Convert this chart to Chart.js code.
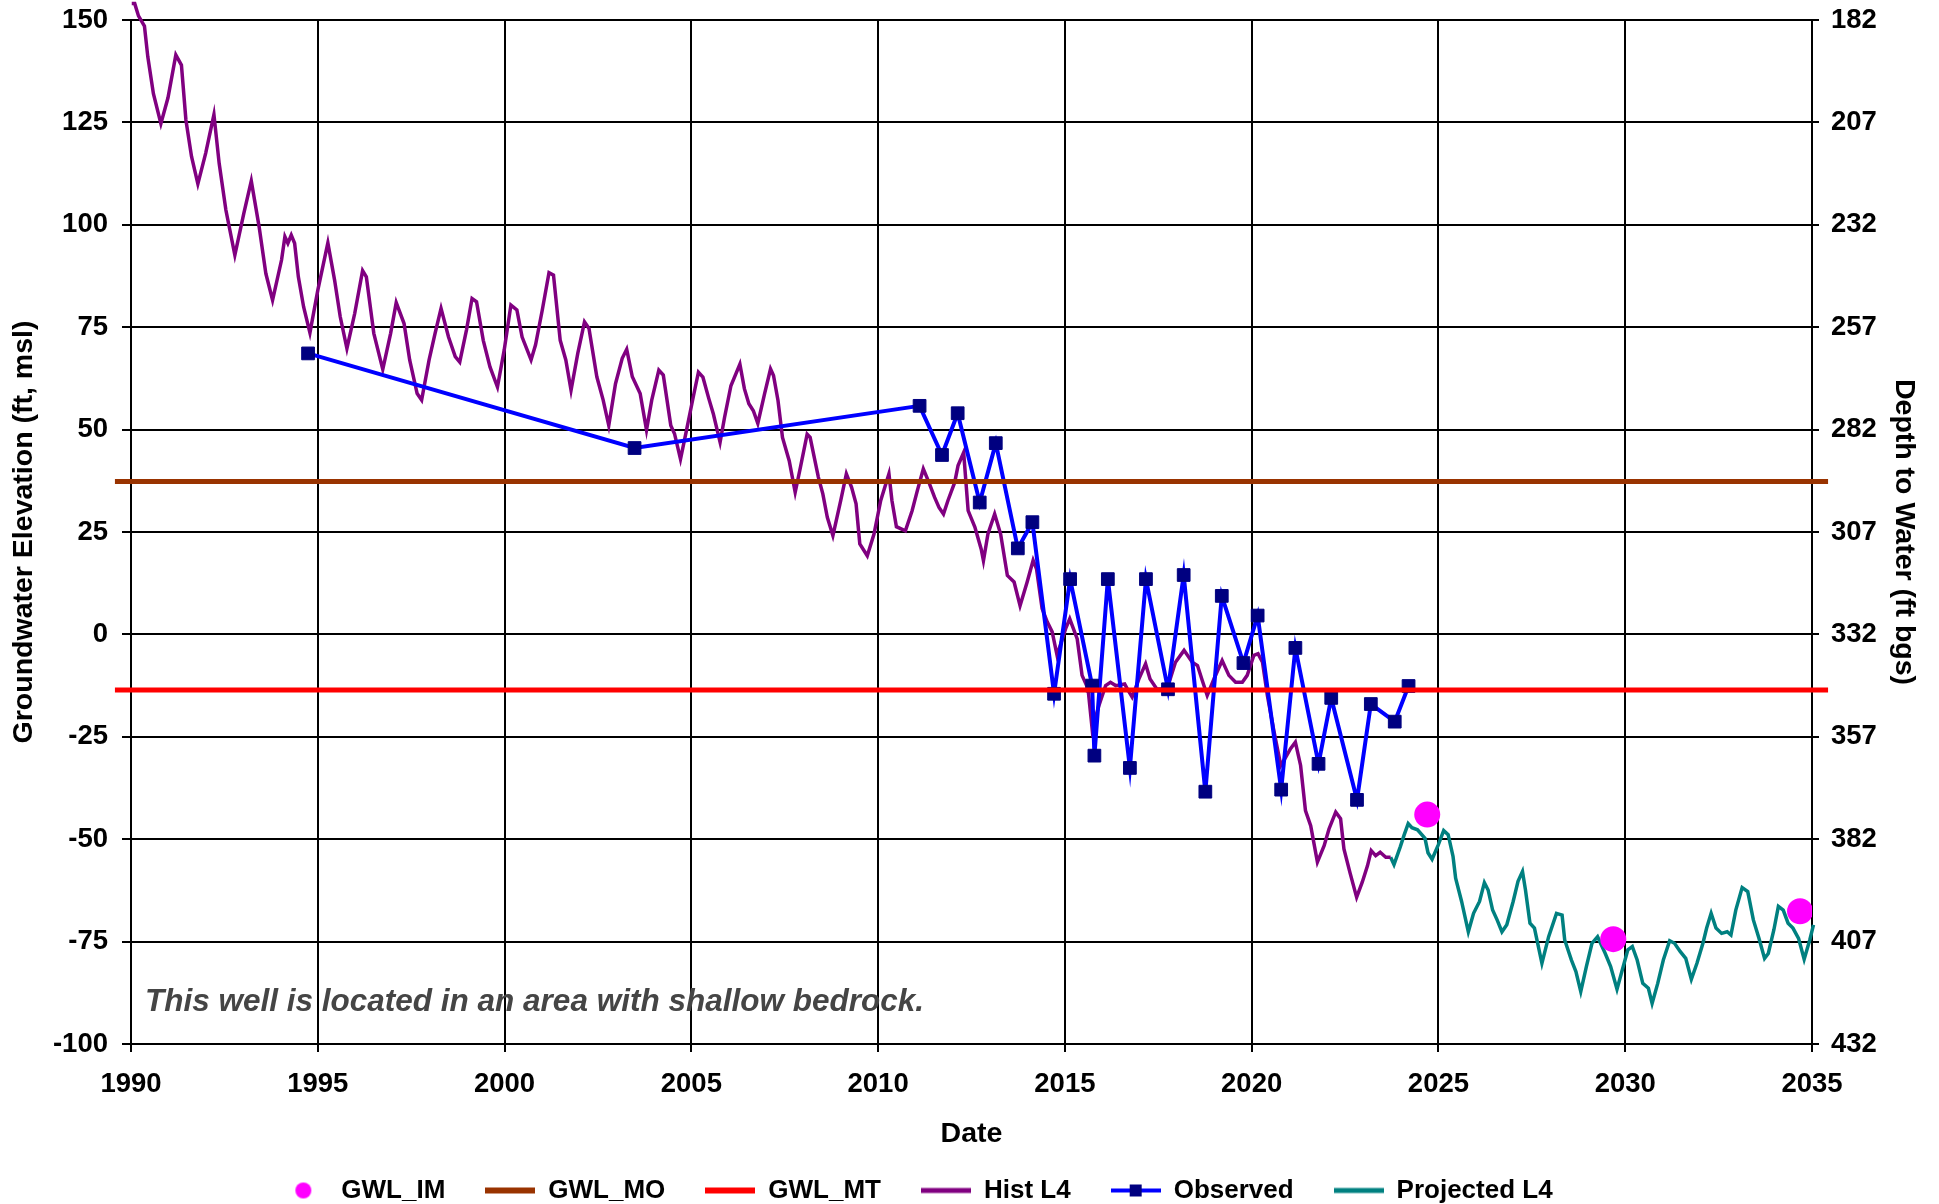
<!DOCTYPE html>
<html>
<head>
<meta charset="utf-8">
<title>Groundwater Elevation L4</title>
<script src="https://cdn.jsdelivr.net/npm/chart.js@4.4.1/dist/chart.umd.min.js"></script>
<style>
  html, body { margin: 0; padding: 0; background: #fff; }
  #chart { display: block; }
</style>
</head>
<body>
<canvas id="chart" width="1939" height="1204"></canvas>
<script>
// ===== DATA =====
const yearTicks  = [1990, 1995, 2000, 2005, 2010, 2015, 2020, 2025, 2030, 2035];
const elevTicks  = [-100, -75, -50, -25, 0, 25, 50, 75, 100, 125, 150];
const depthTicks = [182, 207, 232, 257, 282, 307, 332, 357, 382, 407, 432];

const legendNames = ['GWL_IM', 'GWL_MO', 'GWL_MT', 'Hist L4', 'Observed', 'Projected L4'];

// threshold lines (ft msl), drawn across the whole date span
const gwlMO = 37.3;
const gwlMT = -13.6;
const thresholdSpan = [1989.57, 2035.43];

// interim milestones
const imPoints = [[2024.7, -44], [2029.68, -74.4], [2034.68, -67.6]];

// observed measurements
const observed = [
  [1994.74, 68.6], [2003.48, 45.5], [2011.11, 55.8], [2011.71, 43.8], [2012.13, 54],
  [2012.72, 32.2], [2013.15, 46.7], [2013.74, 21], [2014.13, 27.4], [2014.71, -14.5],
  [2015.14, 13.5], [2015.73, -12.5], [2015.79, -29.6], [2016.15, 13.5], [2016.74, -32.6],
  [2017.17, 13.5], [2017.76, -13.4], [2018.18, 14.5], [2018.76, -38.4], [2019.2, 9.4],
  [2019.78, -7], [2020.16, 4.6], [2020.79, -37.9], [2021.17, -3.3], [2021.79, -31.6],
  [2022.13, -15.5], [2022.82, -40.4], [2023.19, -17], [2023.83, -21.3], [2024.2, -12.6]
];

// historical model L4
const histL4 = [
  [1990.02, 154], [1990.1, 154], [1990.2, 151], [1990.36, 148.5], [1990.45, 141], [1990.6, 132],
  [1990.8, 124.7], [1990.99, 131], [1991.2, 141.5], [1991.35, 139], [1991.47, 125.6], [1991.62, 116.7],
  [1991.79, 110], [1992.0, 117.5], [1992.22, 126.9], [1992.36, 115], [1992.54, 103.6], [1992.78, 92.6],
  [1993.02, 102.8], [1993.22, 110.7], [1993.43, 99.5], [1993.61, 88.1], [1993.79, 81.6], [1994.03, 91.4],
  [1994.12, 97.1], [1994.2, 95.5], [1994.29, 97.5], [1994.38, 95.5], [1994.48, 87.3], [1994.62, 80],
  [1994.79, 73.6], [1995.0, 84], [1995.27, 95.6], [1995.45, 86.5], [1995.6, 77.6], [1995.78, 69.8],
  [1995.99, 78.4], [1996.2, 88.8], [1996.3, 87.3], [1996.5, 73.5], [1996.74, 64.7], [1996.95, 73.5],
  [1997.1, 81], [1997.31, 75.9], [1997.46, 67], [1997.66, 58.8], [1997.78, 57.2], [1997.98, 67],
  [1998.14, 73.5], [1998.3, 79.6], [1998.5, 72.6], [1998.68, 67.8], [1998.8, 66.5], [1998.98, 74.3],
  [1999.13, 82], [1999.25, 81.2], [1999.43, 71.8], [1999.61, 65.3], [1999.81, 60.4], [1999.99, 69.4],
  [2000.17, 80.4], [2000.33, 79.2], [2000.47, 72.6], [2000.71, 67], [2000.83, 70.7], [2001.01, 79.2],
  [2001.19, 88.3], [2001.31, 87.7], [2001.49, 71.8], [2001.64, 67], [2001.78, 59.6], [2001.96, 68.6],
  [2002.14, 76.3], [2002.26, 74.7], [2002.47, 62.9], [2002.64, 57.2], [2002.79, 51], [2002.97, 61.2],
  [2003.15, 67.4], [2003.27, 69.6], [2003.42, 62.9], [2003.63, 58.8], [2003.8, 49.9], [2003.94, 57.2],
  [2004.13, 64.5], [2004.25, 63.3], [2004.45, 51], [2004.55, 49], [2004.71, 42.8], [2004.87, 49.8],
  [2005.05, 57.9], [2005.19, 64], [2005.31, 62.8], [2005.47, 57.5], [2005.59, 53.8], [2005.77, 46.9],
  [2005.89, 53], [2006.06, 60.7], [2006.3, 66], [2006.42, 60], [2006.54, 56.3], [2006.66, 54.6],
  [2006.78, 51.5], [2006.96, 58.7], [2007.12, 64.8], [2007.2, 63.2], [2007.32, 57.1], [2007.44, 48.1],
  [2007.62, 42.4], [2007.78, 34.7], [2007.92, 40.8], [2008.1, 48.9], [2008.18, 48.1], [2008.4, 38.4],
  [2008.52, 34.3], [2008.64, 28.6], [2008.79, 24.1], [2009.0, 32.7], [2009.15, 39.2], [2009.29, 35.9],
  [2009.41, 31.9], [2009.51, 22.1], [2009.71, 19.2], [2009.89, 24.5], [2010.07, 32.7], [2010.29, 39.2],
  [2010.37, 32.7], [2010.49, 26.3], [2010.73, 25.3], [2010.91, 30.2], [2011.05, 35.1], [2011.21, 40.4],
  [2011.36, 37.1], [2011.51, 33.5], [2011.63, 31], [2011.75, 29.4], [2011.87, 32.7], [2012.05, 37.1],
  [2012.14, 41.2], [2012.29, 44.4], [2012.41, 30.2], [2012.59, 26.2], [2012.76, 20.8], [2012.82, 18],
  [2012.94, 24.5], [2013.12, 29.4], [2013.28, 24.5], [2013.46, 14.4], [2013.64, 12.8], [2013.8, 7],
  [2013.99, 12.8], [2014.15, 18.1], [2014.24, 16], [2014.39, 6.3], [2014.53, 3], [2014.66, 0.6],
  [2014.79, -5.1], [2015.02, 1.4], [2015.13, 3.8], [2015.33, -1.1], [2015.46, -10], [2015.62, -13.3],
  [2015.73, -23.1], [2015.91, -17.4], [2016.09, -12.5], [2016.22, -11.7], [2016.36, -12.5], [2016.6, -12.1],
  [2016.67, -13.3], [2016.8, -15.3], [2016.98, -10.9], [2017.16, -7.2], [2017.28, -10.9], [2017.46, -13.3],
  [2017.65, -13.3], [2017.79, -11.7], [2017.96, -6.8], [2018.19, -3.9], [2018.41, -6.8], [2018.55, -7.6],
  [2018.68, -11.3], [2018.81, -14.9], [2018.99, -10.9], [2019.21, -6.4], [2019.39, -10], [2019.57, -11.7],
  [2019.75, -11.7], [2019.88, -10], [2020.06, -5.1], [2020.17, -4.7], [2020.29, -6.8], [2020.42, -14.9],
  [2020.6, -23.8], [2020.78, -32], [2020.91, -30], [2021.04, -27.9], [2021.17, -26.3], [2021.31, -32],
  [2021.44, -43], [2021.58, -46.7], [2021.76, -55.6], [2021.94, -51.6], [2022.07, -47.5], [2022.25, -43.4],
  [2022.38, -45], [2022.47, -52.4], [2022.63, -58.1], [2022.81, -64.2], [2022.96, -60.5], [2023.1, -56.5],
  [2023.2, -52.8], [2023.32, -54], [2023.44, -53.2], [2023.59, -54.4], [2023.72, -54.4]
];

// projected model L4
const projL4 = [
  [2023.72, -54.4], [2023.81, -56.2], [2023.98, -51.8], [2024.08, -49], [2024.19, -46.2], [2024.29, -47.2],
  [2024.44, -47.7], [2024.64, -49.8], [2024.72, -53.3], [2024.83, -54.9], [2024.99, -51.5], [2025.14, -47.9],
  [2025.26, -48.9], [2025.39, -54.2], [2025.46, -59.5], [2025.62, -65.2], [2025.8, -72.6], [2025.94, -68.1],
  [2026.1, -65.2], [2026.23, -60.6], [2026.33, -62.4], [2026.45, -67.3], [2026.57, -69.7], [2026.7, -72.6],
  [2026.83, -70.9], [2027.0, -65.2], [2027.13, -60.3], [2027.25, -57.9], [2027.33, -62.4], [2027.45, -70.5],
  [2027.57, -71.7], [2027.77, -80.3], [2027.95, -73.8], [2028.16, -68.1], [2028.31, -68.5], [2028.38, -74.6],
  [2028.56, -79.5], [2028.68, -82.3], [2028.81, -87.2], [2028.96, -81.1], [2029.11, -75.4], [2029.26, -73.8],
  [2029.46, -77.8], [2029.61, -81.1], [2029.78, -86.6], [2029.91, -82.3], [2030.07, -77], [2030.19, -76.2],
  [2030.32, -79.5], [2030.47, -85.2], [2030.62, -86.4], [2030.72, -90.1], [2030.87, -85.2], [2031.02, -79.5],
  [2031.19, -74.8], [2031.32, -75.4], [2031.47, -77.4], [2031.62, -79.1], [2031.77, -84.2], [2031.92, -80.3],
  [2032.08, -75.4], [2032.18, -71.7], [2032.3, -68.1], [2032.43, -71.7], [2032.58, -73], [2032.73, -72.6],
  [2032.83, -73.4], [2032.96, -67.3], [2033.13, -61.8], [2033.28, -62.8], [2033.43, -69.7], [2033.58, -74.2],
  [2033.73, -79.1], [2033.83, -77.9], [2033.98, -72.1], [2034.1, -66.4], [2034.23, -67.3], [2034.36, -70.5],
  [2034.49, -71.7], [2034.64, -74.2], [2034.79, -79.3], [2034.94, -74.6], [2035.04, -70.9]
];

const noteLabel = 'This well is located in an area with shallow bedrock.';

// ===== HELPERS =====
const pts = arr => arr.map(p => ({ x: p[0], y: p[1] }));
const flat = v => thresholdSpan.map(x => ({ x: x, y: v }));

const FONT = '"Liberation Sans", Arial, Helvetica, sans-serif';
const tickFont = { family: FONT, size: 27.5, weight: 'bold' };
const titleFont = { family: FONT, size: 28.5, weight: 'bold' };

// little canvases used as legend swatches
function lineSwatch(color, w, marker) {
  const c = document.createElement('canvas');
  c.width = 50; c.height = 16;
  const g = c.getContext('2d');
  g.fillStyle = color;
  g.fillRect(0, 8 - w / 2, 50, w);
  if (marker) {
    g.fillStyle = marker;
    g.fillRect(19, 2, 12, 12);
  }
  return c;
}
function dotSwatch(color) {
  const c = document.createElement('canvas');
  c.width = 50; c.height = 18;
  const g = c.getContext('2d');
  g.fillStyle = color;
  g.beginPath();
  g.arc(25, 9, 8, 0, Math.PI * 2);
  g.fill();
  return c;
}

// fixed box sizes so the plot area lands where it does in the original
const fixWidth = w => s => { s.width = w; s.paddingTop = 0; s.paddingBottom = 0; };
const fixHeight = h => s => { s.height = h; s.paddingLeft = 0; s.paddingRight = 0; };

// ===== PLUGINS =====
// nudge the legend to where it sits in the original
const legendNudge = {
  id: 'legendNudge',
  afterLayout(chart) {
    const lg = chart.legend;
    lg.left -= 54; lg.right -= 54;
    lg.top -= 13.5;
  }
};

// note written inside the plot
const noteText = {
  id: 'noteText',
  afterDraw(chart) {
    const { ctx, chartArea } = chart;
    ctx.save();
    ctx.font = 'italic bold 31.5px ' + FONT;
    ctx.fillStyle = '#454545';
    ctx.textBaseline = 'alphabetic';
    ctx.textAlign = 'left';
    ctx.fillText(noteLabel, chartArea.left + 14, chartArea.bottom - 33);
    ctx.restore();
  }
};

// ===== CHART =====
const swatches = [
  dotSwatch('#FF00FF'),
  lineSwatch('#993300', 6),
  lineSwatch('#FF0000', 6),
  lineSwatch('#800080', 5),
  lineSwatch('#0000FF', 4, '#000080'),
  lineSwatch('#008080', 5)
];

new Chart(document.getElementById('chart'), {
  type: 'scatter',
  data: {
    datasets: [
      {
        label: legendNames[0], data: pts(imPoints), order: 0,
        showLine: false, pointRadius: 13, pointHoverRadius: 13,
        backgroundColor: '#FF00FF', borderColor: '#FF00FF', pointBorderWidth: 0
      },
      {
        label: legendNames[1], data: flat(gwlMO), order: 1,
        showLine: true, borderColor: '#993300', borderWidth: 5, pointRadius: 0, clip: false
      },
      {
        label: legendNames[2], data: flat(gwlMT), order: 2,
        showLine: true, borderColor: '#FF0000', borderWidth: 5, pointRadius: 0, clip: false
      },
      {
        label: legendNames[3], data: pts(histL4), order: 4,
        showLine: true, borderColor: '#800080', borderWidth: 3.5, pointRadius: 0, clip: false
      },
      {
        label: legendNames[4], data: pts(observed), order: 3,
        showLine: true, borderColor: '#0000FF', borderWidth: 4,
        pointStyle: 'rect', pointRadius: 9, pointHoverRadius: 9,
        pointBackgroundColor: '#000080', pointBorderColor: '#000080', pointBorderWidth: 1
      },
      {
        label: legendNames[5], data: pts(projL4), order: 5,
        showLine: true, borderColor: '#008080', borderWidth: 3.5, pointRadius: 0, clip: false
      }
    ]
  },
  options: {
    responsive: false,
    devicePixelRatio: 1,
    animation: false,
    layout: { padding: { top: 20, left: 0, right: 0, bottom: 0 } },
    plugins: {
      tooltip: { enabled: false },
      legend: {
        position: 'bottom',
        maxHeight: 53,
        labels: {
          usePointStyle: true,
          pointStyleWidth: 50,
          padding: 40,
          color: '#000',
          font: { family: FONT, size: 26, weight: 'bold' },
          generateLabels: chart => chart.data.datasets.map((ds, i) => ({
            text: ds.label,
            datasetIndex: i,
            pointStyle: swatches[i],
            fillStyle: '#000',
            strokeStyle: '#000',
            lineWidth: 0,
            fontColor: '#000',
            hidden: false
          }))
        }
      }
    },
    scales: {
      x: {
        type: 'linear', position: 'bottom',
        min: yearTicks[0], max: yearTicks[yearTicks.length - 1],
        afterBuildTicks: s => { s.ticks = yearTicks.map(v => ({ value: v })); },
        afterFit: fixHeight(107),
        grid: { color: '#000', lineWidth: 2, tickLength: 8, tickColor: '#000', tickWidth: 2 },
        border: { color: '#000', width: 2 },
        ticks: { color: '#000', font: tickFont, padding: 16, maxRotation: 0, autoSkip: false,
                 callback: v => String(v) },
        title: { display: true, text: 'Date', color: '#000', font: titleFont,
                 padding: { top: 0, bottom: 0 } }
      },
      y: {
        type: 'linear', position: 'left',
        min: elevTicks[0], max: elevTicks[elevTicks.length - 1],
        afterBuildTicks: s => { s.ticks = elevTicks.map(v => ({ value: v })); },
        afterFit: fixWidth(131),
        grid: { color: '#000', lineWidth: 2, tickLength: 9, tickColor: '#000', tickWidth: 2 },
        border: { color: '#000', width: 2 },
        ticks: { color: '#000', font: tickFont, padding: 14, autoSkip: false,
                 callback: v => String(v) },
        title: { display: true, text: 'Groundwater Elevation (ft, msl)', color: '#000',
                 font: titleFont, padding: { top: 7, bottom: 0 } }
      },
      depth: {
        type: 'linear', position: 'right', reverse: true,
        min: depthTicks[0], max: depthTicks[depthTicks.length - 1],
        afterBuildTicks: s => { s.ticks = depthTicks.map(v => ({ value: v })); },
        afterFit: fixWidth(127),
        grid: { drawOnChartArea: false, color: '#000', lineWidth: 2, tickLength: 7,
                tickColor: '#000', tickWidth: 2 },
        border: { color: '#000', width: 2 },
        ticks: { color: '#000', font: tickFont, padding: 12, autoSkip: false,
                 callback: v => String(v) },
        title: { display: true, text: 'Depth to Water (ft bgs)', color: '#000',
                 font: titleFont, padding: { top: 18, bottom: 0 } }
      }
    }
  },
  plugins: [legendNudge, noteText]
});
</script>
</body>
</html>
